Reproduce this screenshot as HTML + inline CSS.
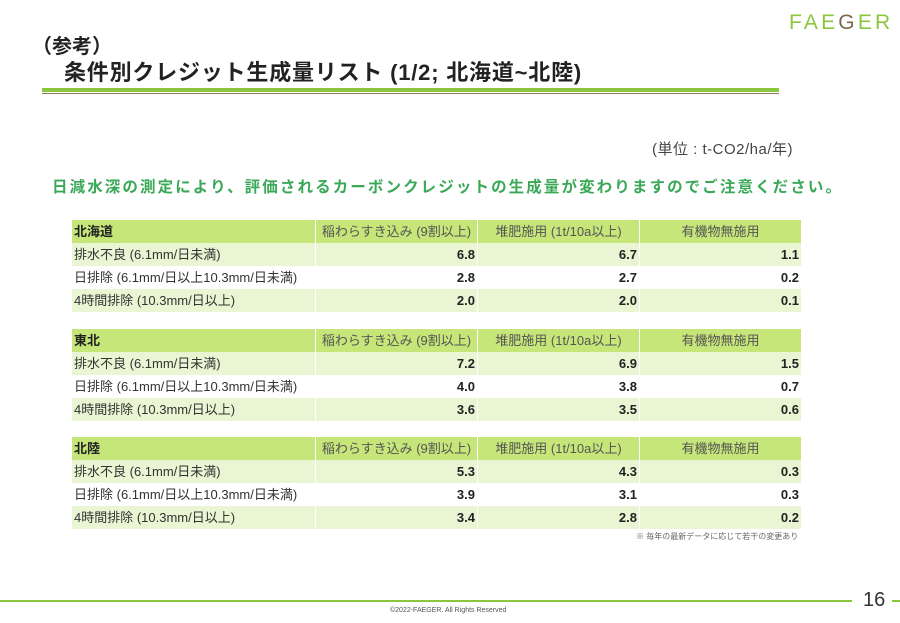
<!DOCTYPE html>
<html><head><meta charset="utf-8"><style>
body{margin:0;width:900px;height:623px;background:#fff;position:relative;overflow:hidden;font-family:"Liberation Sans","Noto Sans CJK JP",sans-serif;}
.a{position:absolute;white-space:nowrap}
table{position:absolute;left:72px;border-collapse:collapse;font-size:13px;color:#333}
td{height:23px;padding:0 2px;border-left:1px solid #fff;line-height:23px}
td:first-child{border-left:none;width:239px}
td.n{text-align:right;font-weight:bold;color:#222;width:157px}
tr.h td{background:#c6e67a;color:#555;text-align:center}
tr.h td:first-child{text-align:left;font-weight:bold;color:#222}
tr.o td{background:#eaf5d3}
</style></head><body>
<div class="a" style="left:789px;top:11px;font-size:21px;letter-spacing:3.2px;color:#8cc63f">FAE<span style="color:#7a6a50">G</span>ER</div>
<div class="a" style="left:32px;top:30px;font-size:20px;font-weight:bold;color:#222">（参考）</div>
<div class="a" style="left:64px;top:55px;font-size:22px;font-weight:bold;color:#222;letter-spacing:0.8px">条件別クレジット生成量リスト (1/2; 北海道~北陸)</div>
<div class="a" style="left:42px;top:88px;width:737px;height:4px;background:#8cc63f"></div>
<div class="a" style="left:42px;top:93px;width:737px;height:1px;background:#8a7a55"></div>
<div class="a" style="left:652px;top:138px;font-size:15px;color:#444;letter-spacing:0.5px">(単位 : t-CO2/ha/年)</div>
<div class="a" style="left:52px;top:175px;font-size:15.5px;font-weight:bold;color:#3aa857;letter-spacing:2.1px">日減水深の測定により、評価されるカーボンクレジットの生成量が変わりますのでご注意ください。</div>

<table style="top:220px">
<tr class="h"><td>北海道</td><td>稲わらすき込み (9割以上)</td><td>堆肥施用 (1t/10a以上)</td><td>有機物無施用</td></tr>
<tr class="o"><td>排水不良 (6.1mm/日未満)</td><td class="n">6.8</td><td class="n">6.7</td><td class="n">1.1</td></tr>
<tr><td>日排除 (6.1mm/日以上10.3mm/日未満)</td><td class="n">2.8</td><td class="n">2.7</td><td class="n">0.2</td></tr>
<tr class="o"><td>4時間排除 (10.3mm/日以上)</td><td class="n">2.0</td><td class="n">2.0</td><td class="n">0.1</td></tr>
</table>
<table style="top:329px">
<tr class="h"><td>東北</td><td>稲わらすき込み (9割以上)</td><td>堆肥施用 (1t/10a以上)</td><td>有機物無施用</td></tr>
<tr class="o"><td>排水不良 (6.1mm/日未満)</td><td class="n">7.2</td><td class="n">6.9</td><td class="n">1.5</td></tr>
<tr><td>日排除 (6.1mm/日以上10.3mm/日未満)</td><td class="n">4.0</td><td class="n">3.8</td><td class="n">0.7</td></tr>
<tr class="o"><td>4時間排除 (10.3mm/日以上)</td><td class="n">3.6</td><td class="n">3.5</td><td class="n">0.6</td></tr>
</table>
<table style="top:437px">
<tr class="h"><td>北陸</td><td>稲わらすき込み (9割以上)</td><td>堆肥施用 (1t/10a以上)</td><td>有機物無施用</td></tr>
<tr class="o"><td>排水不良 (6.1mm/日未満)</td><td class="n">5.3</td><td class="n">4.3</td><td class="n">0.3</td></tr>
<tr><td>日排除 (6.1mm/日以上10.3mm/日未満)</td><td class="n">3.9</td><td class="n">3.1</td><td class="n">0.3</td></tr>
<tr class="o"><td>4時間排除 (10.3mm/日以上)</td><td class="n">3.4</td><td class="n">2.8</td><td class="n">0.2</td></tr>
</table>
<div class="a" style="left:636px;top:531px;font-size:8px;color:#666">※ 毎年の最新データに応じて若干の変更あり</div>
<div class="a" style="left:0;top:600px;width:852px;height:2px;background:#8cc63f"></div>
<div class="a" style="left:892px;top:600px;width:8px;height:2px;background:#8cc63f"></div>
<div class="a" style="left:863px;top:589px;font-size:20px;color:#333">16</div>
<div class="a" style="left:390px;top:607px;font-size:7px;color:#555">©2022-FAEGER. All Rights Reserved</div>
</body></html>
